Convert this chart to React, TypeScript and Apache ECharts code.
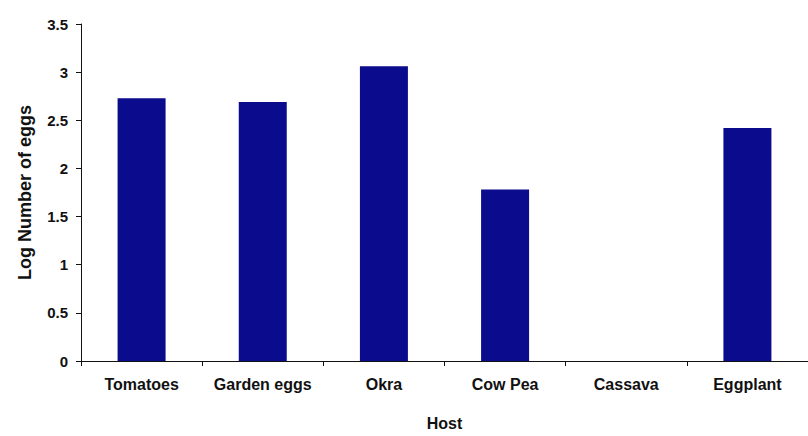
import React, { useEffect, useRef } from "react";
import * as echarts from "echarts";

const hosts = ["Tomatoes", "Garden eggs", "Okra", "Cow Pea", "Cassava", "Eggplant"];
const logEggs = [2.73, 2.69, 3.06, 1.78, 0, 2.42];
const yTicks = { min: 0, max: 3.5, interval: 0.5 };
const xTitle = "Host";
const yTitle = "Log Number of eggs";

const FONT = "'Liberation Sans', Arial, sans-serif";

export default function App() {
  const ref = useRef<HTMLDivElement>(null);
  useEffect(() => {
    if (!ref.current) return;
    const chart = echarts.init(ref.current, undefined, { renderer: "svg" });
    chart.setOption({
      animation: false,
      backgroundColor: "#ffffff",
      grid: { left: 81, right: -5, top: 24, bottom: 70, containLabel: false },
      xAxis: {
        type: "category",
        data: hosts,
        name: xTitle,
        nameLocation: "middle",
        nameGap: 54,
        nameTextStyle: { fontFamily: FONT, fontSize: 16, fontWeight: "bold", color: "#111" },
        axisLine: { lineStyle: { color: "#111", width: 1 } },
        axisTick: { show: true, alignWithLabel: false, length: 5, lineStyle: { color: "#111" } },
        axisLabel: {
          interval: 0,
          margin: 15,
          fontFamily: FONT,
          fontSize: 16,
          fontWeight: "bold",
          color: "#111",
        },
        splitLine: { show: false },
      },
      yAxis: {
        type: "value",
        min: yTicks.min,
        max: yTicks.max,
        interval: yTicks.interval,
        name: yTitle,
        nameLocation: "middle",
        nameRotate: 90,
        nameGap: 47,
        nameTextStyle: { fontFamily: FONT, fontSize: 18, fontWeight: "bold", color: "#111" },
        axisLine: { show: true, lineStyle: { color: "#111", width: 1 } },
        axisTick: { show: true, length: 5, lineStyle: { color: "#111" } },
        axisLabel: {
          margin: 13,
          fontFamily: FONT,
          fontSize: 15,
          fontWeight: "bold",
          color: "#111",
        },
        splitLine: { show: false },
      },
      series: [
        {
          type: "bar",
          data: logEggs,
          barWidth: 48,
          itemStyle: { color: "#0b0b8e" },
        },
      ],
    });
    return () => chart.dispose();
  }, []);
  return (
    <div
      ref={ref}
      style={{ position: "fixed", left: 0, top: 0, width: 808, height: 436 }}
    />
  );
}
